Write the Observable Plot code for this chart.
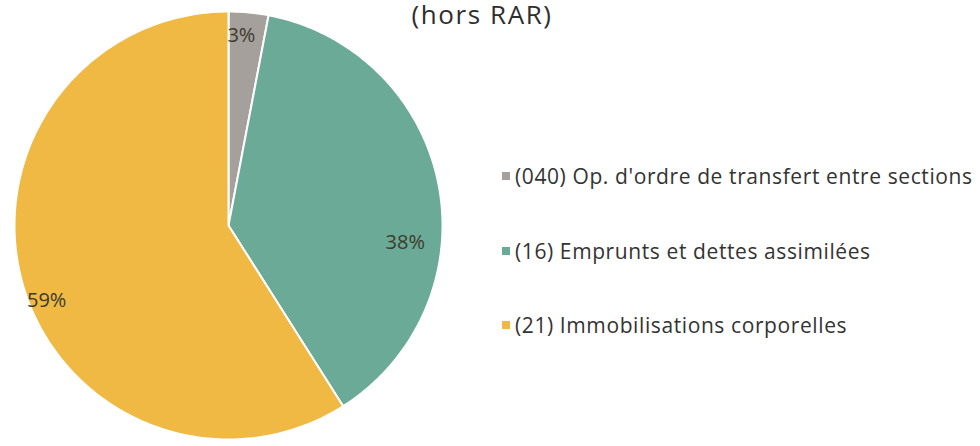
<!DOCTYPE html>
<html><head><meta charset="utf-8">
<script src="https://cdn.jsdelivr.net/npm/d3@7"></script>
<script src="https://cdn.jsdelivr.net/npm/@observablehq/plot@0.6"></script>
<style>
body{margin:0;background:#fff;font-family:"Open Sans",Lato,sans-serif;}
#wrap{position:relative;width:980px;height:446px;overflow:hidden;background:#fff}
#title{position:absolute;left:482px;top:0px;transform:translateX(-50%);font-size:26px;letter-spacing:1.6px;line-height:28px;color:#2e2e2e;white-space:nowrap}
.leg{position:absolute;left:502px;font-size:21px;letter-spacing:0.6px;color:#333;white-space:nowrap;transform:translateY(-50%);display:flex;align-items:center}
.sw{display:inline-block;width:8px;height:8px;margin-right:5px}
</style>
</head><body>
<div id="wrap"></div>
<script>
const categories = ["(040) Op. d'ordre de transfert entre sections", "(16) Emprunts et dettes assimilées", "(21) Immobilisations corporelles"];
const values = [3, 38, 59];
const colors = ["#a5a09b", "#6aaa96", "#efb944"];
const title = "(hors RAR)";
const legendRowsY = [176, 251, 325];

const total = d3.sum(values);
let acc = 0;
const slices = categories.map((c, i) => {
  const a0 = acc / total * 2 * Math.PI;
  acc += values[i];
  const a1 = acc / total * 2 * Math.PI;
  return {c, v: values[i], a0, a1};
});
const pts = [];
for (const s of slices) {
  pts.push({c: s.c, x: 0, y: 0});
  const n = Math.max(2, Math.ceil((s.a1 - s.a0) / (Math.PI / 180)));
  for (let k = 0; k <= n; k++) {
    const a = s.a0 + (s.a1 - s.a0) * k / n;
    pts.push({c: s.c, x: Math.sin(a), y: Math.cos(a)});
  }
  pts.push({c: s.c, x: 0, y: 0});
}
// label placement within each slice: fraction along the arc, and radius
const labelFrac = [0.36, 0.62, 0.47];
const labelR = [0.89, 0.83, 0.92];
const labels = slices.map((s, i) => {
  const m = s.a0 + (s.a1 - s.a0) * labelFrac[i];
  return {c: s.c, t: s.v + "%", x: Math.sin(m) * labelR[i], y: Math.cos(m) * labelR[i]};
});

const plot = Plot.plot({
  width: 980, height: 446,
  marginLeft: 14, marginRight: 538, marginTop: 11, marginBottom: 7,
  x: {domain: [-1, 1], axis: null},
  y: {domain: [-1, 1], axis: null},
  color: {domain: categories, range: colors},
  style: {fontFamily: "'Open Sans', Lato, sans-serif", background: "transparent"},
  marks: [
    Plot.line(pts, {x: "x", y: "y", z: "c", fill: "c", stroke: "white", strokeWidth: 2, curve: "linear"}),
    Plot.text(labels, {x: "x", y: "y", text: "t", fontSize: 20, fill: "#3d3a2e"})
  ]
});
const wrap = document.getElementById("wrap");
wrap.appendChild(plot);
const t = document.createElement("div");
t.id = "title"; t.textContent = title; wrap.appendChild(t);
categories.forEach((c, i) => {
  const d = document.createElement("div");
  d.className = "leg";
  d.style.top = legendRowsY[i] + "px";
  d.innerHTML = `<span class="sw" style="background:${colors[i]}"></span>`;
  d.appendChild(document.createTextNode(c));
  wrap.appendChild(d);
});
</script>
</body></html>
